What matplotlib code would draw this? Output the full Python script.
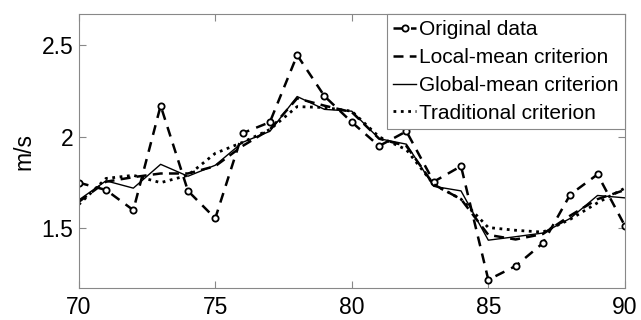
import matplotlib
matplotlib.use("Agg")
import matplotlib.pyplot as plt

plt.rcParams['font.family'] = ['Liberation Sans', 'DejaVu Sans']

x = list(range(70, 91))

original = [1.75, 1.71, 1.60, 2.17, 1.705, 1.555, 2.02, 2.08, 2.446, 2.222, 2.08,
            1.95, 2.03, 1.755, 1.84, 1.22, 1.295, 1.42, 1.685, 1.795, 1.515]
local_mean = [1.645, 1.755, 1.78, 1.80, 1.80, 1.84, 1.95, 2.04, 2.21, 2.17, 2.135,
              1.99, 1.95, 1.74, 1.66, 1.465, 1.44, 1.47, 1.57, 1.66, 1.71]
global_mean = [1.655, 1.76, 1.72, 1.85, 1.785, 1.845, 1.97, 2.03, 2.22, 2.15, 2.14,
               1.99, 1.96, 1.73, 1.705, 1.436, 1.455, 1.475, 1.555, 1.68, 1.667]
traditional = [1.63, 1.773, 1.79, 1.75, 1.79, 1.91, 1.97, 2.04, 2.165, 2.16, 2.14,
               2.0, 1.93, 1.74, 1.66, 1.505, 1.49, 1.48, 1.55, 1.64, 1.72]

fig = plt.figure(figsize=(6.41, 3.2), dpi=100)
ax = fig.add_axes([0.1228, 0.1, 0.852, 0.856])

ax.plot(x, original, '--o', color='black', lw=1.8, dashes=(4, 3),
        ms=4.5, mfc='white', mew=1.3, label='Original data')
ax.plot(x, local_mean, '--', color='black', lw=1.8, dashes=(4, 2.5),
        label='Local-mean criterion')
ax.plot(x, global_mean, '-', color='black', lw=1.0, label='Global-mean criterion')
ax.plot(x, traditional, ':', color='black', lw=2.0, label='Traditional criterion')

ax.set_xlim(70, 90)
ax.set_ylim(1.175, 2.67)
ax.set_xticks([70, 75, 80, 85, 90])
ax.set_yticks([1.5, 2, 2.5])
ax.set_yticklabels(['1.5', '2', '2.5'])
ax.set_ylabel('m/s', fontsize=16.5, labelpad=4)

ax.tick_params(direction='in', top=True, right=True, labelsize=16.5,
               color='#888888', length=5, width=0.8)
ax.tick_params(axis='x', pad=6)
ax.tick_params(axis='y', pad=4)
for s in ax.spines.values():
    s.set_color('#888888')
    s.set_linewidth(0.8)

leg = ax.legend(loc='upper right', fontsize=15, borderaxespad=0,
                handlelength=1.1, handletextpad=0.15, labelspacing=0.42,
                borderpad=0.3, fancybox=False, framealpha=1)
leg.get_frame().set_edgecolor('#888888')
leg.get_frame().set_linewidth(0.8)

fig.savefig('out.png', dpi=100)
